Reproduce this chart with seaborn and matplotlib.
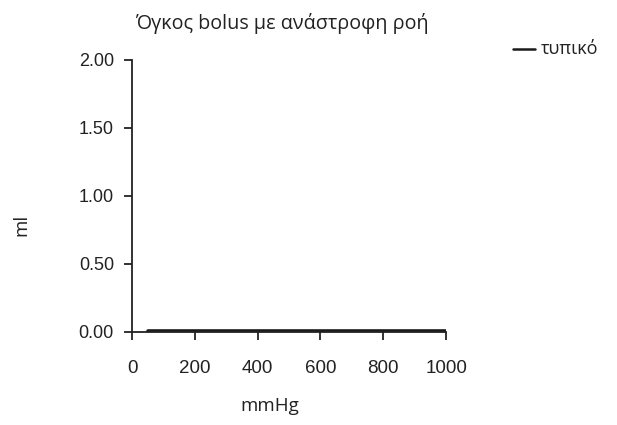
import pandas as pd
import matplotlib
matplotlib.use('Agg')
import matplotlib.pyplot as plt
import seaborn as sns

# data
pressure_mmhg = [50, 100, 200, 300, 400, 500, 600, 700, 800, 900, 1000]
bolus_ml = [0.01, 0.01, 0.01, 0.01, 0.01, 0.01, 0.01, 0.01, 0.01, 0.01, 0.01]
series_name = 'τυπικό'
x_ticks = [0, 200, 400, 600, 800, 1000]
y_ticks = [0.0, 0.5, 1.0, 1.5, 2.0]

df = pd.DataFrame({'mmHg': pressure_mmhg, 'ml': bolus_ml, 'series': series_name})

sns.set_style('white')
plt.rcParams['font.family'] = ['Open Sans', 'DejaVu Sans']

fig = plt.figure(figsize=(6.17, 4.25), dpi=100)
ax = fig.add_axes([0.214, 0.219, 0.509, 0.640])

sns.lineplot(data=df, x='mmHg', y='ml', hue='series', palette=['#1a1a1a'],
             linewidth=2.6, ax=ax, legend=False)

ax.set_xlim(0, 1000)
ax.set_ylim(0, 2.0)
ax.set_xticks(x_ticks)
ax.set_yticks(y_ticks)
ax.set_xticklabels([str(t) for t in x_ticks], family='Liberation Sans', fontsize=13.5)
ax.set_yticklabels([f'{t:.2f}' for t in y_ticks], family='Liberation Sans', fontsize=13)
ax.tick_params(axis='both', direction='out', length=6, width=1.3, color='#222222',
               labelcolor='#222222', bottom=True, left=True)
ax.tick_params(axis='x', pad=14)
ax.tick_params(axis='y', pad=7)

for side in ['top', 'right']:
    ax.spines[side].set_visible(False)
for side in ['left', 'bottom']:
    ax.spines[side].set_color('#222222')
    ax.spines[side].set_linewidth(1.3)

ax.set_xlabel('')
ax.set_ylabel('')
fig.text(0.437, 0.045, 'mmHg', ha='center', va='center', fontsize=13.5, color='#222222')
fig.text(0.034, 0.47, 'ml', ha='center', va='center', rotation=90, fontsize=13.5, color='#222222')
fig.text(0.457, 0.945, 'Όγκος bolus με ανάστροφη ροή', ha='center', va='center',
         fontsize=14.2, color='#222222')

# legend in the top right corner
fig.lines.append(plt.Line2D([0.832, 0.867], [0.884, 0.884], color='#1a1a1a',
                            linewidth=1.8, transform=fig.transFigure))
fig.text(0.876, 0.884, series_name, ha='left', va='center', fontsize=13, color='#222222')

fig.savefig('out.png', dpi=100)
plt.close(fig)
